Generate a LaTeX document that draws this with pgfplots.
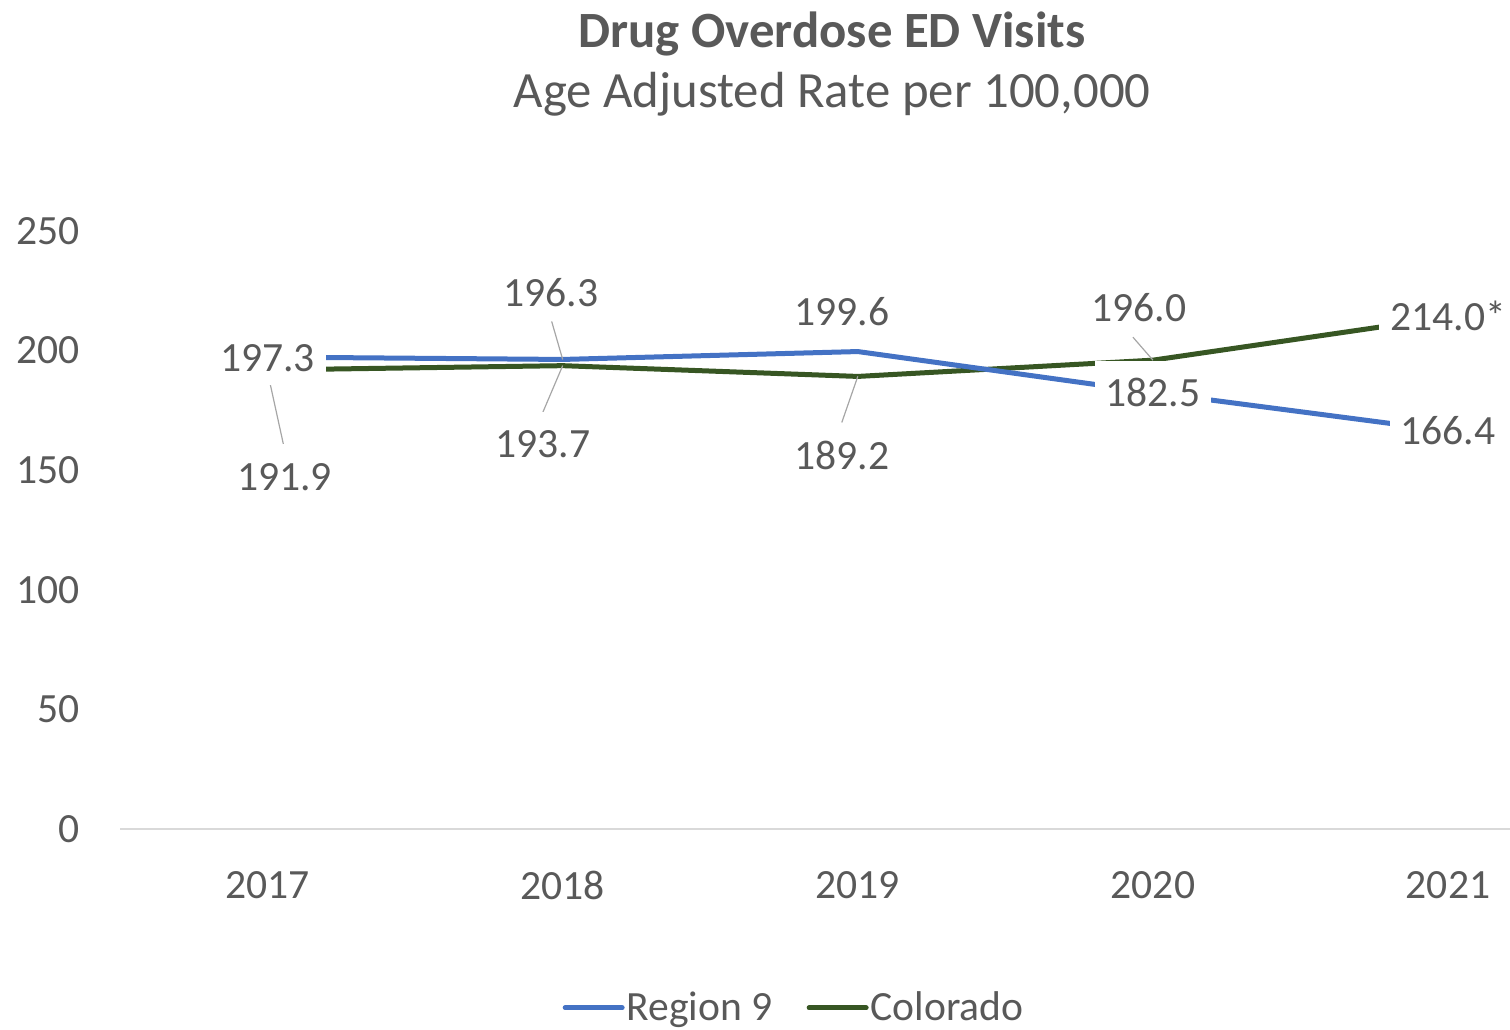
\documentclass[border=0pt]{standalone}
\usepackage{pgfplots}
\usepackage{pgfplotstable}
\pgfplotsset{compat=1.18}
\usepackage{fontspec}
\setmainfont{Carlito}
\definecolor{regblue}{HTML}{4472C4}
\definecolor{cogreen}{HTML}{375623}
\definecolor{textgray}{HTML}{595959}
\definecolor{axisgray}{HTML}{D9D9D9}
\definecolor{leadgray}{HTML}{A6A6A6}

% offsets dx, dy (pt) of label centre from the data point
\pgfplotstableread{
x y label dx dy
0 197.3 197.3 0 -0.5
1 196.3 196.3 -6 33
2 199.6 199.6 -8 19.5
3 182.5 182.5 0 -0.5
4 166.4 166.4 0 0
}\regiondata
\pgfplotstableread{
x y label dx dy
0 191.9 191.9 8.5 -53.5
1 193.7 193.7 -10 -39.5
2 189.2 189.2 -8 -40
3 196.0 196.0 -7 26
4 214.0 214.0* 0 0
}\codata

\begin{document}
\begin{tikzpicture}
\path[use as bounding box] (0,0) rectangle (755pt,514.5pt);
\node[anchor=base, text=textgray, font=\bfseries\fontsize{25.4}{30}\selectfont] at (416pt,490.5pt) {Drug Overdose ED Visits};
\node[anchor=base, text=textgray, font=\fontsize{25.4}{30}\selectfont] at (416pt,460.5pt) {Age Adjusted Rate per 100,000};
\begin{axis}[
  at={(60pt,100pt)}, anchor=south west,
  scale only axis, width=695pt, height=299pt,
  xmin=-0.5, xmax=4.21, ymin=0, ymax=250,
  clip=false,
  axis x line*=bottom, axis y line*=left,
  y axis line style={draw=none},
  x axis line style={draw=axisgray, line width=0.8pt},
  major tick length=0pt, tick style={draw=none},
  xtick={0,1,2,3,4}, xticklabels={2017,2018,2019,2020,2021},
  ytick={0,50,100,150,200,250},
  /pgf/number format/assume math mode=true,
  ticklabel style={font=\fontsize{20.8}{25}\selectfont, text=textgray},
  yticklabel style={anchor=east, inner sep=0pt, xshift=-20pt},
  xticklabel style={anchor=north, inner sep=0pt, yshift=-21pt},
  legend columns=2,
  legend style={at={(0.485,-0.299)}, anchor=center, draw=none, fill=none,
    font=\fontsize{20.8}{25}\selectfont, text=textgray,
    nodes={inner sep=1pt},
    /tikz/every even column/.append style={column sep=16pt}},
  legend image code/.code={\draw[#1, line cap=round] (0pt,0pt) -- (28.5pt,0pt);},
  point meta=explicit symbolic,
  nodes near coords={\pgfplotspointmeta},
  visualization depends on={\thisrow{dx} \as \dx},
  visualization depends on={\thisrow{dy} \as \dy},
  every node near coord/.style={anchor=base, fill=white, text=textgray,
    font=\fontsize{20.8}{25}\selectfont,
    text height=23pt, text depth=7pt, inner ysep=0pt, inner xsep=5.5pt,
    xshift={\dx*1pt}, yshift={\dy*1pt-6.6pt}},
]
\addlegendimage{regblue, line width=2.5pt}
\addlegendentry{Region 9}
\addlegendimage{cogreen, line width=2.5pt}
\addlegendentry{Colorado}
\addplot[cogreen, line width=2.5pt, line join=round, mark=none, forget plot]
  table[x=x, y=y, meta=label] {\codata};
\addplot[regblue, line width=2.5pt, line join=round, mark=none, forget plot]
  table[x=x, y=y, meta=label] {\regiondata};
% leader lines
\draw[leadgray, line width=0.6pt] ([shift={(0pt,-1pt)}]axis cs:0,191.9) -- ([shift={(8pt,-37.5pt)}]axis cs:0,191.9);
\draw[leadgray, line width=0.6pt] (axis cs:1,196.3) -- ([shift={(-5.5pt,19pt)}]axis cs:1,196.3);
\draw[leadgray, line width=0.6pt] (axis cs:1,193.7) -- ([shift={(-10pt,-23.5pt)}]axis cs:1,193.7);
\draw[leadgray, line width=0.6pt] (axis cs:2,189.2) -- ([shift={(-8pt,-23pt)}]axis cs:2,189.2);
\draw[leadgray, line width=0.6pt] (axis cs:3,196.0) -- ([shift={(-10pt,11.5pt)}]axis cs:3,196.0);
\end{axis}
\end{tikzpicture}
\end{document}
